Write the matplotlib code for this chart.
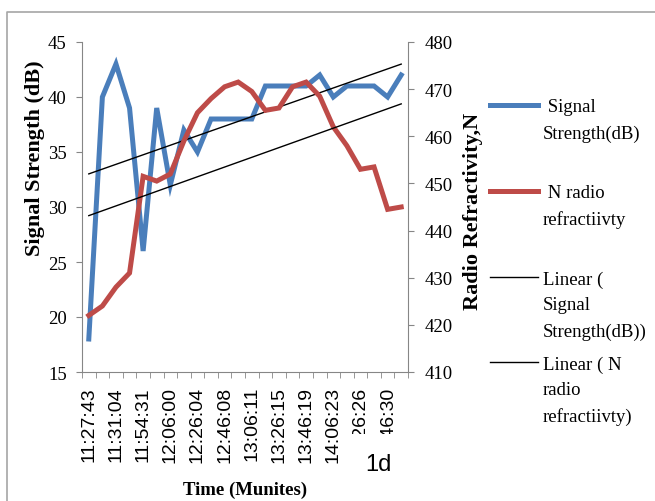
import numpy as np
import matplotlib.pyplot as plt
from matplotlib.lines import Line2D
from matplotlib.patches import Rectangle

plt.rcParams['font.family'] = ['Liberation Serif', 'DejaVu Serif']

# data (24 samples, every second one labelled)
tick_labels = ["11:27:43", "11:31:04", "11:54:31", "12:06:00", "12:26:04", "12:46:08",
               "13:06:11", "13:26:15", "13:46:19", "14:06:23", "14:26:26", "14:46:30"]
signal_db = [18, 40, 43, 39, 26, 39, 32, 37, 35, 38, 38, 38,
             38, 41, 41, 41, 41, 42, 40, 41, 41, 41, 40, 42]
refractivity = [422, 424, 428, 431, 451.5, 450.5, 452, 459, 465, 468, 470.5, 471.5,
                469.5, 465.5, 466, 470.5, 471.5, 468.5, 462, 458, 453, 453.5, 444.5, 445]

blue = '#4A7EBB'
red = '#BE4B48'
grey = '#868686'

W, H = 655, 502


def fx(px):
    return px / W


def fy(py):
    return 1 - py / H


fig = plt.figure(figsize=(W / 100, H / 100), dpi=100)

# outer chart border (only left/top visible in the crop)
fig.add_artist(Line2D([fx(7), fx(7), 1.0], [0.0, fy(13), fy(13)], color='#A6A6A6', lw=1.2))

ax = fig.add_axes([fx(82), fy(373), fx(408) - fx(82), fy(43) - fy(373)])
ax2 = ax.twinx()

x = np.arange(len(signal_db))
p_sig = np.polyfit(x, signal_db, 1)
p_ref = np.polyfit(x, refractivity, 1)

ax.plot(x, signal_db, color=blue, lw=3.6, solid_joinstyle='miter', zorder=2)
ax.plot(x, np.polyval(p_sig, x), color='black', lw=1.0, zorder=3)
ax2.plot(x, refractivity, color=red, lw=3.6, solid_joinstyle='miter', zorder=2)
ax2.plot(x, np.polyval(p_ref, x), color='black', lw=1.0, zorder=3)

ax.set_xlim(-0.5, len(x) - 0.5)
ax.set_ylim(15, 45)
ax.set_yticks(np.arange(15, 46, 5))
ax2.set_ylim(410, 480)
ax2.set_yticks(np.arange(410, 481, 10))

ax.set_xticks(np.arange(0, len(x), 2))
ax.set_xticklabels(tick_labels, rotation=90, fontsize=14, family='Liberation Sans')
ax.set_xticks(np.arange(-0.5, len(x), 1), minor=True)
ax.tick_params(axis='x', which='major', length=0, pad=10)
ax.tick_params(axis='x', which='minor', length=4, color=grey, direction='out')
ax.tick_params(axis='y', length=4, color=grey, pad=7, labelsize=13.5)
ax2.tick_params(axis='y', length=4, color=grey, pad=8, labelsize=13.5)

for a in (ax, ax2):
    a.spines['top'].set_visible(False)
    for s in ('left', 'right', 'bottom'):
        a.spines[s].set_color(grey)
ax.spines['right'].set_visible(False)
ax2.spines['left'].set_visible(False)
ax2.spines['bottom'].set_visible(False)

# axis titles
fig.text(fx(35), fy(158), 'Signal Strength (dB)', rotation=90, fontsize=16,
         fontweight='bold', ha='center', va='center')
fig.text(fx(473), fy(211), 'Radio Refractivity,N', rotation=90, fontsize=16,
         fontweight='bold', ha='center', va='center')
fig.text(fx(245), fy(490), 'Time (Munites)', fontsize=13.5, fontweight='bold',
         ha='center', va='center')

# white box hiding the start of the last labels, with the panel tag
fig.add_artist(Rectangle((fx(350), fy(495)), fx(412) - fx(350), fy(435) - fy(495),
                         facecolor='white', edgecolor='none', zorder=5))
fig.text(fx(378), fy(465), '1d', fontsize=17, family='Liberation Sans',
         ha='center', va='center', zorder=6)

# legend drawn by hand to mimic the wrapped labels
legend_items = [
    (blue, 3.6, 106, [' Signal', 'Strength(dB)']),
    (red, 3.6, 192, [' N radio', 'refractiivty']),
    ('black', 1.0, 278, ['Linear (', 'Signal', 'Strength(dB))']),
    ('black', 1.0, 363, ['Linear ( N', 'radio', 'refractiivty)']),
]
for color, lw, ly, lines in legend_items:
    fig.add_artist(Line2D([fx(490), fx(538)], [fy(ly), fy(ly)], color=color, lw=lw))
    for i, t in enumerate(lines):
        fig.text(fx(543), fy(ly + 26 * i), t, fontsize=13.5, ha='left',
                 va='center_baseline')

fig.savefig('out.png', dpi=100)
